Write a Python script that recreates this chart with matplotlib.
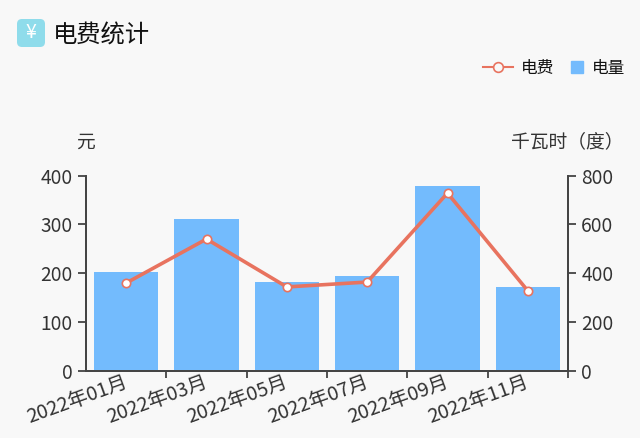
import matplotlib
import matplotlib.pyplot as plt
from matplotlib.patches import FancyBboxPatch
from matplotlib.transforms import ScaledTranslation

matplotlib.use("Agg")

plt.rcParams["font.family"] = ["Noto Sans CJK SC", "DejaVu Sans"]

months = ["2022年01月", "2022年03月", "2022年05月", "2022年07月", "2022年09月", "2022年11月"]
fee = [180, 270, 172, 182, 364, 164]
power = [405, 622, 364, 389, 757, 344]

BG = "#F8F8F8"
AXIS = "#444444"
TEXT = "#333333"
LINE = "#E8735F"
BAR = "#73BBFD"
W, H = 640, 438

fig = plt.figure(figsize=(W / 100, H / 100), dpi=100, facecolor=BG)

# Слой в пикселях для заголовка и значка
overlay = fig.add_axes([0, 0, 1, 1])
overlay.set_xlim(0, W)
overlay.set_ylim(H, 0)
overlay.axis("off")
overlay.add_patch(FancyBboxPatch((20, 22), 22, 22, boxstyle="round,pad=3,rounding_size=5",
                                 fc="#8FDCEB", ec="none"))
overlay.text(31, 33, "¥", color="white", fontsize=14, ha="center", va="center")
overlay.text(53, 36, "电费统计", color="#111111", fontsize=17.5, ha="left", va="center")
overlay.text(85, 142, "元", color=TEXT, fontsize=13.5, ha="center", va="center")
overlay.text(567, 142, "千瓦时（度）", color=TEXT, fontsize=13.5, ha="center", va="center")

left, right, top, bottom = 86, 568, 175.5, 371
ax = fig.add_axes([left / W, 1 - bottom / H, (right - left) / W, (bottom - top) / H])
ax.patch.set_alpha(0)

x = list(range(len(months)))
ax.bar(x, power, width=0.8, color=BAR)
ax.set_xlim(-0.5, len(months) - 0.5)
ax.set_ylim(0, 800)
ax.set_yticks([0, 200, 400, 600, 800])

ax2 = ax.twinx()
ax2.patch.set_alpha(0)
ax2.plot(x, fee, color=LINE, lw=2.6, marker="o", ms=6, mfc="white", mec=LINE, mew=1.2)
ax2.set_ylim(0, 400)
ax2.set_yticks([0, 100, 200, 300, 400])

# twinx переставляет оси, поэтому стороны задаем после него
ax.yaxis.tick_right()
ax2.yaxis.tick_left()

# Подписи по центрам, засечки на границах категорий
ax.set_xticks(x)
ax.set_xticklabels(months, rotation=20, ha="right", rotation_mode="anchor",
                   fontsize=14.3, color=TEXT)
ax.tick_params(axis="x", which="major", length=0, pad=1)
ax.set_xticks([i + 0.5 for i in x], minor=True)
ax.tick_params(axis="x", which="minor", length=5, width=1.3, color=AXIS)
shift = ScaledTranslation(-3 / 100, 0, fig.dpi_scale_trans)
for label in ax.get_xticklabels():
    label.set_transform(label.get_transform() + shift)

for a in (ax, ax2):
    a.tick_params(axis="y", length=5.5, width=1.3, color=AXIS, labelcolor=TEXT,
                  labelsize=13.8, pad=4)
    a.spines["top"].set_visible(False)
    for side in ("left", "right", "bottom"):
        a.spines[side].set_color(AXIS)
        a.spines[side].set_linewidth(1.3)

line_key = plt.Line2D([], [], color=LINE, lw=1.5, marker="o", ms=7, mfc=BG, mec=LINE,
                      mew=1.2, label="电费")
fig.legend(handles=[line_key], loc="center left", bbox_to_anchor=(483 / W, 1 - 68 / H),
           frameon=False, fontsize=12, handlelength=1.8, handletextpad=0.5,
           borderaxespad=0, borderpad=0, labelcolor="#111111")
square = plt.Line2D([], [], ls="none", marker="s", ms=8.5, color=BAR, label="电量")
fig.legend(handles=[square], loc="center left", bbox_to_anchor=(571 / W, 1 - 68 / H),
           frameon=False, fontsize=12, handlelength=0.7, handletextpad=0.55,
           borderaxespad=0, borderpad=0, labelcolor="#111111")

fig.savefig("out.png", dpi=100, facecolor=BG)
plt.close(fig)
